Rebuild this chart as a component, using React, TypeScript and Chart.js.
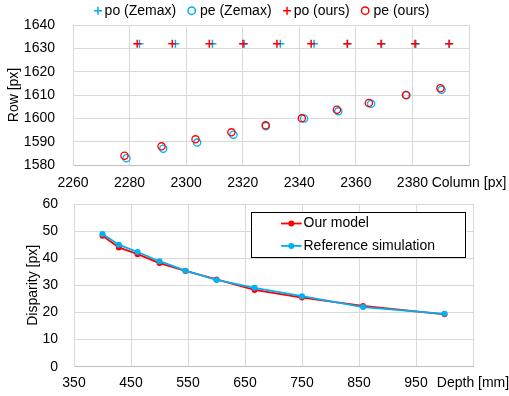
import { useEffect, useRef } from "react";
import { Chart, registerables } from "chart.js";

Chart.register(...registerables);

const FONT_FAMILY = "'Liberation Sans', Arial, sans-serif";
const CYAN = "#00B0F0";
const RED = "#FF0000";
const GRID = "#D9D9D9";
const AXIS = "#BFBFBF";
const TEXT = "#000000";

// ---- Upper panel: projected image points (column, row) ----
const poZemaxColumn = [2283.5, 2296.2, 2309.3, 2320.5, 2333.3, 2345.2, 2357.0, 2369.1, 2381.2, 2393.0];
const poZemaxRow = [1632, 1632, 1632, 1632, 1632, 1632, 1632, 1632, 1632, 1632];
const peZemaxColumn = [2278.9, 2291.9, 2303.9, 2316.7, 2328.2, 2341.7, 2353.8, 2365.4, 2377.9, 2390.3];
const peZemaxRow = [1582.9, 1587.0, 1589.6, 1593.0, 1596.6, 1599.9, 1603.0, 1606.2, 1609.9, 1612.2];
const poOursColumn = [2282.7, 2295.1, 2308.2, 2320.1, 2332.1, 2344.2, 2357.0, 2368.9, 2380.9, 2393.0];
const poOursRow = [1632, 1632, 1632, 1632, 1632, 1632, 1632, 1632, 1632, 1632];
const peOursColumn = [2278.2, 2291.3, 2303.3, 2316.0, 2328.1, 2340.9, 2353.3, 2364.6, 2377.7, 2389.9];
const peOursRow = [1584.0, 1588.0, 1591.0, 1594.0, 1597.0, 1600.0, 1603.7, 1606.6, 1610.0, 1612.9];

const upperLabels = ["po (Zemax)", "pe (Zemax)", "po (ours)", "pe (ours)"];
const columnRange = [2260, 2400];
const columnStep = 20;
const rowRange = [1580, 1640];
const rowStep = 10;
const columnTitle = "Column [px]";
const rowTitle = "Row [px]";

// ---- Lower panel: disparity against depth ----
const depthMm = [400, 428.6, 461.5, 500, 545.5, 600, 666.7, 750, 857.1, 1000];
const disparityOurs = [48.3, 44.0, 41.5, 38.2, 35.3, 32.2, 28.3, 25.5, 22.4, 19.3];
const disparityReference = [48.9, 45.0, 42.3, 38.9, 35.4, 32.0, 29.1, 26.0, 22.0, 19.5];
const lowerLabels = ["Our model", "Reference simulation"];
const depthRange = [350, 1050];
const depthStep = 100;
const disparityRange = [0, 60];
const disparityStep = 10;
const depthTitle = "Depth [mm]";
const disparityTitle = "Disparity [px]";

const font14 = { family: FONT_FAMILY, size: 14 };

function toPoints(xs: number[], ys: number[]) {
  return xs.map((x, i) => ({ x, y: ys[i] }));
}

function drawMarker(ctx: CanvasRenderingContext2D, style: string, x: number, y: number, color: string, r: number) {
  ctx.save();
  ctx.strokeStyle = color;
  ctx.lineWidth = 1.5;
  ctx.beginPath();
  if (style === "cross") {
    ctx.moveTo(x - r, y);
    ctx.lineTo(x + r, y);
    ctx.moveTo(x, y - r);
    ctx.lineTo(x, y + r);
  } else {
    ctx.arc(x, y, r, 0, Math.PI * 2);
  }
  ctx.stroke();
  ctx.restore();
}

// Axis sizes are fixed so the plot area lands where the layout padding says
function fixX(height: number) {
  return (s: any) => {
    s.height = height;
    s.paddingLeft = 0;
    s.paddingRight = 0;
  };
}
function fixY(width: number) {
  return (s: any) => {
    s.width = width;
    s.paddingTop = 0;
    s.paddingBottom = 0;
  };
}

// Rotated y-axis title placed at a fixed spot beside the axis
function yTitlePlugin(id: string, text: string, x: number) {
  return {
    id,
    afterDraw(chart: any) {
      const { ctx, chartArea } = chart;
      ctx.save();
      ctx.translate(x, (chartArea.top + chartArea.bottom) / 2);
      ctx.rotate(-Math.PI / 2);
      ctx.font = `14px ${FONT_FAMILY}`;
      ctx.fillStyle = TEXT;
      ctx.textAlign = "center";
      ctx.textBaseline = "middle";
      ctx.fillText(text, 0, 0);
      ctx.restore();
    },
  };
}

// Single-row legend above the scatter panel
const upperLegendPlugin = {
  id: "upperLegend",
  afterDraw(chart: any) {
    const { ctx } = chart;
    const y = 10.7;
    let x = 94;
    ctx.save();
    ctx.font = `14px ${FONT_FAMILY}`;
    ctx.fillStyle = TEXT;
    ctx.textBaseline = "middle";
    ctx.textAlign = "left";
    chart.data.datasets.forEach((ds: any) => {
      const cx = x + 4;
      const isCross = ds.pointStyle === "cross";
      drawMarker(ctx, ds.pointStyle, cx, y, ds.borderColor, isCross ? 4 : 3.7);
      const tx = cx + (isCross ? 6.6 : 8.3);
      ctx.fillStyle = TEXT;
      ctx.fillText(ds.label, tx, y);
      x = tx + ctx.measureText(ds.label).width + 11.5;
    });
    ctx.restore();
  },
};

// Boxed legend inside the disparity panel
const lowerLegendPlugin = {
  id: "lowerLegend",
  afterDraw(chart: any) {
    const { ctx } = chart;
    const left = 251.5;
    const top = 20.5;
    ctx.save();
    ctx.fillStyle = "#FFFFFF";
    ctx.fillRect(left, top, 214, 45);
    ctx.strokeStyle = "#000000";
    ctx.lineWidth = 1;
    ctx.strokeRect(left, top, 214, 45);
    ctx.font = `14px ${FONT_FAMILY}`;
    ctx.textBaseline = "middle";
    ctx.textAlign = "left";
    chart.data.datasets.forEach((ds: any, i: number) => {
      const y = 31.5 + i * 22.4;
      ctx.strokeStyle = ds.borderColor;
      ctx.lineWidth = 1.8;
      ctx.beginPath();
      ctx.moveTo(281, y);
      ctx.lineTo(301.7, y);
      ctx.stroke();
      ctx.fillStyle = ds.borderColor;
      ctx.beginPath();
      ctx.arc(291.3, y, 3, 0, Math.PI * 2);
      ctx.fill();
      ctx.fillStyle = TEXT;
      ctx.fillText(ds.label, 303.5, y);
    });
    ctx.restore();
  },
};

function upperConfig(): any {
  const cross = { pointStyle: "cross", pointRadius: 4, pointBorderWidth: 1.5, showLine: false };
  const circle = { pointStyle: "circle", pointRadius: 3.6, pointBorderWidth: 1.3, showLine: false, backgroundColor: "rgba(0,0,0,0)" };
  return {
    type: "scatter",
    data: {
      datasets: [
        { label: upperLabels[0], data: toPoints(poZemaxColumn, poZemaxRow), borderColor: CYAN, order: 1, ...cross },
        { label: upperLabels[1], data: toPoints(peZemaxColumn, peZemaxRow), borderColor: CYAN, order: 1, ...circle },
        { label: upperLabels[2], data: toPoints(poOursColumn, poOursRow), borderColor: RED, order: 0, ...cross },
        { label: upperLabels[3], data: toPoints(peOursColumn, peOursRow), borderColor: RED, order: 0, ...circle },
      ],
    },
    options: {
      animation: false,
      responsive: false,
      events: [],
      layout: { padding: { top: 25, right: 40, left: 0, bottom: 0 } },
      plugins: { legend: { display: false }, tooltip: { enabled: false } },
      scales: {
        x: {
          type: "linear",
          min: columnRange[0],
          max: columnRange[1],
          afterFit: fixX(27),
          ticks: {
            stepSize: columnStep,
            autoSkip: false,
            maxRotation: 0,
            minRotation: 0,
            padding: 10,
            color: TEXT,
            font: font14,
            callback: (v: number) => (v === columnRange[1] ? columnTitle : String(v)),
          },
          grid: { color: GRID, drawTicks: false },
          border: { color: AXIS },
        },
        y: {
          type: "linear",
          min: rowRange[0],
          max: rowRange[1],
          afterFit: fixY(73),
          ticks: { stepSize: rowStep, padding: 18, color: TEXT, font: font14, callback: (v: number) => String(v) },
          grid: { color: GRID, drawTicks: false },
          border: { color: GRID },
        },
      },
    },
    plugins: [upperLegendPlugin, yTitlePlugin("rowTitle", rowTitle, 14.5)],
  };
}

function lowerConfig(): any {
  const common = { borderWidth: 1.8, pointRadius: 3, pointBorderWidth: 0, tension: 0, fill: false };
  return {
    type: "line",
    data: {
      datasets: [
        { label: lowerLabels[0], data: toPoints(depthMm, disparityOurs), borderColor: RED, backgroundColor: RED, pointBackgroundColor: RED, order: 1, ...common },
        { label: lowerLabels[1], data: toPoints(depthMm, disparityReference), borderColor: CYAN, backgroundColor: CYAN, pointBackgroundColor: CYAN, order: 0, ...common },
      ],
    },
    options: {
      animation: false,
      responsive: false,
      events: [],
      layout: { padding: { top: 12, right: 36, left: 0, bottom: 0 } },
      plugins: { legend: { display: false }, tooltip: { enabled: false } },
      scales: {
        x: {
          type: "linear",
          min: depthRange[0],
          max: depthRange[1],
          afterFit: fixX(29.3),
          ticks: {
            stepSize: depthStep,
            autoSkip: false,
            maxRotation: 0,
            minRotation: 0,
            padding: 8,
            color: TEXT,
            font: font14,
            callback: (v: number) => (v === depthRange[1] ? depthTitle : String(v)),
          },
          grid: { color: GRID, drawTicks: false },
          border: { color: AXIS },
        },
        y: {
          type: "linear",
          min: disparityRange[0],
          max: disparityRange[1],
          afterFit: fixY(74),
          ticks: { stepSize: disparityStep, padding: 16, color: TEXT, font: font14, callback: (v: number) => String(v) },
          grid: { color: GRID, drawTicks: false },
          border: { color: GRID },
        },
      },
    },
    plugins: [lowerLegendPlugin, yTitlePlugin("disparityTitle", disparityTitle, 33)],
  };
}

function ChartCanvas({ top, height, build }: { top: number; height: number; build: () => any }) {
  const ref = useRef<HTMLCanvasElement | null>(null);
  useEffect(() => {
    if (!ref.current) return;
    const chart = new Chart(ref.current, build());
    return () => chart.destroy();
  }, [build]);
  return (
    <canvas
      ref={ref}
      width={509}
      height={height}
      style={{ position: "absolute", left: 0, top, width: 509, height, display: "block" }}
    />
  );
}

export default function App() {
  return (
    <div style={{ position: "absolute", left: 0, top: 0, width: 509, height: 396, background: "#FFFFFF", overflow: "hidden" }}>
      <ChartCanvas top={0} height={192} build={upperConfig} />
      <ChartCanvas top={192} height={204} build={lowerConfig} />
    </div>
  );
}
